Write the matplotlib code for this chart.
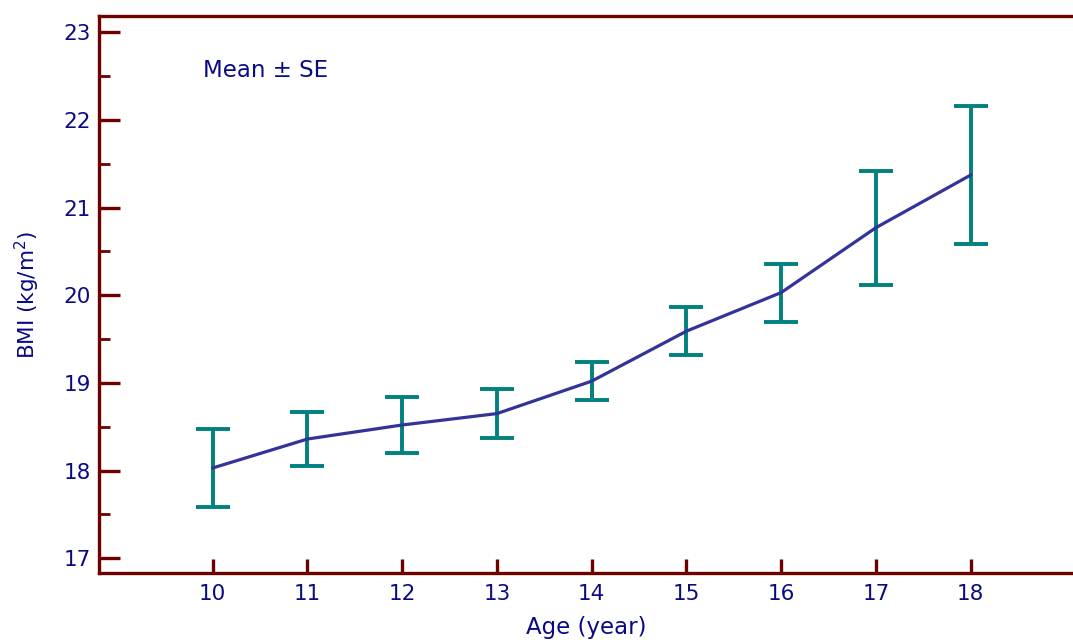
import matplotlib
matplotlib.use("Agg")
import matplotlib.pyplot as plt
from matplotlib.ticker import MultipleLocator

# BMI by age, mean and standard error
ages = [10, 11, 12, 13, 14, 15, 16, 17, 18]
bmi_mean = [18.03, 18.36, 18.52, 18.65, 19.02, 19.59, 20.03, 20.77, 21.37]
bmi_se = [0.44, 0.31, 0.32, 0.28, 0.22, 0.27, 0.33, 0.65, 0.79]

spine_color = "#6e0000"
text_color = "#0a0a85"
line_color = "#333399"
err_color = "#00807f"

plt.rcParams["font.family"] = ["DejaVu Sans"]

fig = plt.figure(figsize=(10.73, 6.4), dpi=100)
ax = fig.add_axes([0.0923, 0.1052, 0.9077, 0.8693])

ax.errorbar(ages, bmi_mean, yerr=bmi_se, fmt="none", ecolor=err_color,
            elinewidth=2.8, capsize=12.5, capthick=2.8, zorder=2)
ax.plot(ages, bmi_mean, color=line_color, linewidth=2.3, zorder=3)

ax.set_xlim(8.8, 19.08)
ax.set_ylim(16.836, 23.18)
ax.set_xticks(ages)
ax.yaxis.set_major_locator(MultipleLocator(1))
ax.yaxis.set_minor_locator(MultipleLocator(0.5))

for side in ("left", "bottom", "top"):
    ax.spines[side].set_color(spine_color)
    ax.spines[side].set_linewidth(2.4)
ax.spines["right"].set_visible(False)

ax.tick_params(axis="y", which="major", direction="in", length=15, width=2.4,
               color=spine_color, labelcolor=text_color, labelsize=15.5, pad=6)
ax.tick_params(axis="y", which="minor", direction="in", length=8, width=2,
               color=spine_color)
ax.tick_params(axis="x", which="major", direction="in", length=10, width=2.4,
               color=spine_color, labelcolor=text_color, labelsize=15.5, pad=8)

ax.set_xlabel("Age (year)", color=text_color, fontsize=16.5, labelpad=9)
ax.set_ylabel("BMI (kg/m$^2$)", color=text_color, fontsize=15.5, labelpad=15)

ax.text(0.107, 0.9035, "Mean \u00b1 SE", transform=ax.transAxes,
        color=text_color, fontsize=16.5, ha="left", va="center")

fig.savefig("out.png", dpi=100)
